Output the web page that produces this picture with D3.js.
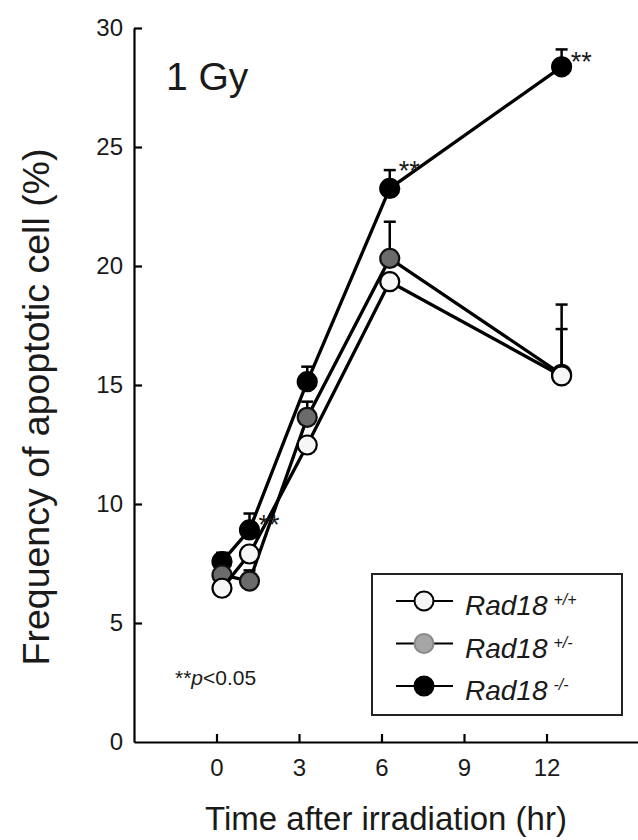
<!DOCTYPE html>
<html>
<head>
<meta charset="utf-8">
<script src="https://cdn.jsdelivr.net/npm/d3@7"></script>
<style>
  body { margin: 0; background: #fff; }
  svg { display: block; font-family: "Liberation Sans", Arial, sans-serif; }
</style>
</head>
<body>
<div id="chart"></div>
<script>
// hours as plotted in the figure (markers sit a bit right of the ticks)
const times = [0.2, 1.2, 3.3, 6.3, 12.55];
const xTicks = [0, 3, 6, 9, 12];
const yTicks = [0, 5, 10, 15, 20, 25, 30];

const wtValues = [6.46, 7.9, 12.48, 19.34, 15.38];
const wtErr = [0, 0, 0, 0, 3.0];
const hetValues = [7.02, 6.76, 13.64, 20.32, 15.45];
const hetErr = [0, 0.45, 0.66, 1.54, 1.9];
const koValues = [7.58, 8.91, 15.14, 23.26, 28.37];
const koErr = [0.37, 0.69, 0.63, 0.77, 0.73];

// indices of Rad18-/- points marked ** (p<0.05)
const sigIndex = [1, 3, 4];

const series = [
    { key: "ko", sup: "-/-", values: koValues, err: koErr, fill: "#000", legendFill: "#000", stroke: "#000" },
    { key: "het", sup: "+/-", values: hetValues, err: hetErr, fill: "#6b6b6b", legendFill: "#a6a6a6", stroke: "#111" },
    { key: "wt", sup: "+/+", values: wtValues, err: wtErr, fill: "#f6f6f6", legendFill: "#f6f6f6", stroke: "#000" }
];

const width = 638;
const height = 840;
const margin = { top: 28, left: 134, bottom: 98 };

const svg = d3.select("#chart")
    .append("svg")
    .attr("width", width)
    .attr("height", height);

const x = d3.scaleLinear()
    .domain([-3, 15.4])
    .range([margin.left, margin.left + 18.4 * 27.5]);

const y = d3.scaleLinear()
    .domain([0, 30])
    .range([height - margin.bottom, margin.top]);

// axes, ticks pointing inwards
const xAxis = svg.append("g")
    .attr("transform", `translate(0,${y(0)})`)
    .call(d3.axisBottom(x).tickValues(xTicks).tickSizeInner(-8).tickSizeOuter(0).tickPadding(17));

const yAxis = svg.append("g")
    .attr("transform", `translate(${margin.left},0)`)
    .call(d3.axisLeft(y).tickValues(yTicks).tickSizeInner(-8).tickSizeOuter(0).tickPadding(11));

[xAxis, yAxis].forEach(ax => {
    ax.select(".domain").attr("stroke", "#000").attr("stroke-width", 2.2);
    ax.selectAll(".tick line").attr("stroke", "#000").attr("stroke-width", 2.2);
    ax.selectAll(".tick text").attr("fill", "#1a1a1a").style("font-size", "24px").style("font-family", "Liberation Sans, Arial, sans-serif");
});
yAxis.selectAll(".tick").filter(d => d === 0).select("line").remove();

// axis titles
svg.append("text")
    .attr("x", 386)
    .attr("y", 830)
    .attr("text-anchor", "middle")
    .attr("fill", "#1a1a1a")
    .style("font-size", "33px")
    .text("Time after irradiation (hr)");

svg.append("text")
    .attr("transform", `translate(49,${407}) rotate(-90)`)
    .attr("text-anchor", "middle")
    .attr("fill", "#1a1a1a")
    .style("font-size", "37.5px")
    .text("Frequency of apoptotic cell (%)");

svg.append("text")
    .attr("x", 166)
    .attr("y", 90)
    .attr("fill", "#1a1a1a")
    .style("font-size", "39px")
    .text("1 Gy");

// lines, error bars, markers
const line = d3.line()
    .x((d, i) => x(times[i]))
    .y(d => y(d));

series.forEach(s => {
    const g = svg.append("g").attr("class", `series-${s.key}`);

    g.append("path")
        .datum(s.values)
        .attr("d", line)
        .attr("fill", "none")
        .attr("stroke", "#000")
        .attr("stroke-width", 3.3);

    const pts = s.values.map((v, i) => ({ t: times[i], v: v, e: s.err[i] }));
    const withErr = pts.filter(d => d.e > 0);

    g.selectAll(".err")
        .data(withErr)
        .join("line")
            .attr("x1", d => x(d.t))
            .attr("x2", d => x(d.t))
            .attr("y1", d => y(d.v))
            .attr("y2", d => y(d.v + d.e))
            .attr("stroke", "#000")
            .attr("stroke-width", 2.5);

    g.selectAll(".cap")
        .data(withErr)
        .join("line")
            .attr("x1", d => x(d.t) - 6)
            .attr("x2", d => x(d.t) + 6)
            .attr("y1", d => y(d.v + d.e))
            .attr("y2", d => y(d.v + d.e))
            .attr("stroke", "#000")
            .attr("stroke-width", 2.5);

    g.selectAll("circle")
        .data(pts)
        .join("circle")
            .attr("cx", d => x(d.t))
            .attr("cy", d => y(d.v))
            .attr("r", 9.5)
            .attr("fill", s.fill)
            .attr("stroke", s.stroke)
            .attr("stroke-width", 2.2);
});

// significance marks
svg.selectAll(".sig")
    .data(sigIndex)
    .join("text")
        .attr("class", "sig")
        .attr("x", i => x(times[i]) + 9)
        .attr("y", i => y(koValues[i]) + (i === 3 ? -8 : 4))
        .attr("fill", "#1a1a1a")
        .style("font-size", "27px")
        .text("**");

svg.append("text")
    .attr("x", 175)
    .attr("y", 685)
    .attr("fill", "#1a1a1a")
    .style("font-size", "21px")
    .call(t => {
        t.append("tspan").text("**");
        t.append("tspan").style("font-style", "italic").text("p");
        t.append("tspan").text("<0.05");
    });

// legend
const legend = svg.append("g");
legend.append("rect")
    .attr("x", 372)
    .attr("y", 574)
    .attr("width", 250)
    .attr("height", 141)
    .attr("fill", "#fff")
    .attr("stroke", "#222")
    .attr("stroke-width", 2);

const legendOrder = [series[2], series[1], series[0]];
const rowY = d3.scalePoint().domain(legendOrder.map(s => s.key)).range([601, 686]);

legendOrder.forEach(s => {
    const ry = rowY(s.key);
    legend.append("line")
        .attr("x1", 396).attr("x2", 453)
        .attr("y1", ry).attr("y2", ry)
        .attr("stroke", "#000")
        .attr("stroke-width", 2.2);
    legend.append("circle")
        .attr("cx", 424).attr("cy", ry)
        .attr("r", 9.5)
        .attr("fill", s.legendFill)
        .attr("stroke", s.key === "het" ? "#8a8a8a" : "#000")
        .attr("stroke-width", 2);
    const txt = legend.append("text")
        .attr("x", 465)
        .attr("y", ry + 14)
        .attr("fill", "#1a1a1a")
        .style("font-size", "28px");
    txt.append("tspan").style("font-style", "italic").text("Rad18");
    txt.append("tspan")
        .attr("dx", 6)
        .attr("dy", -10)
        .style("font-size", "16px")
        .style("font-style", "italic")
        .text(s.sup);
});
</script>
</body>
</html>
